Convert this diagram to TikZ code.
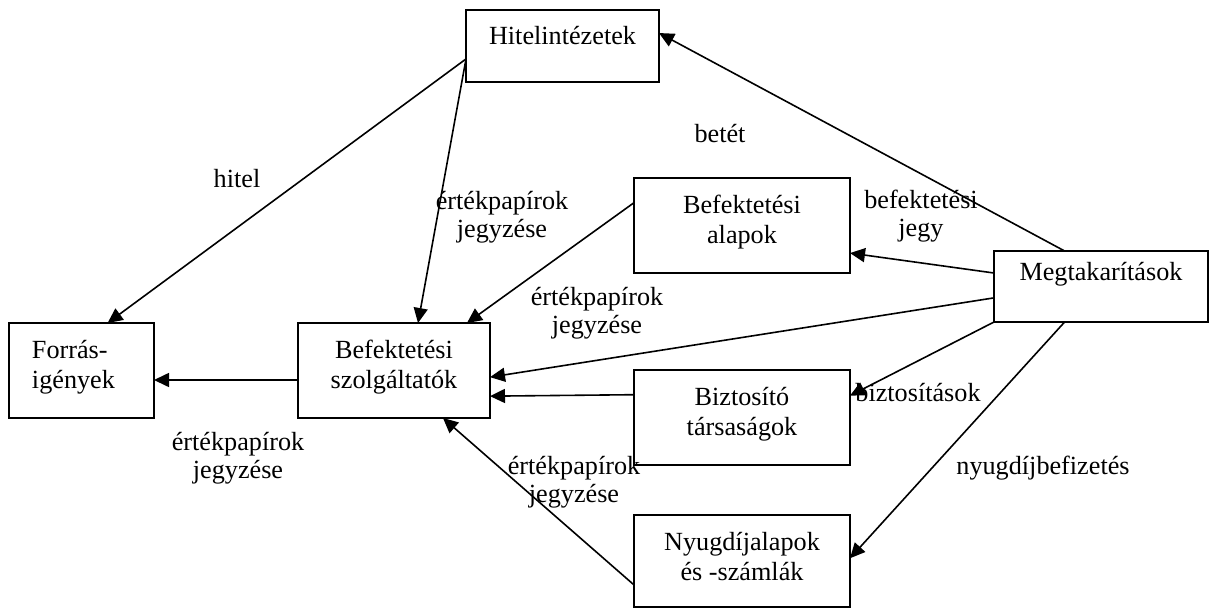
\documentclass[tikz,border=0pt]{standalone}
\usepackage{fontspec}
\setmainfont{Liberation Serif}
\usetikzlibrary{arrows.meta,calc}

\tikzset{
  box/.style={draw, line width=0.8pt, inner sep=0pt, outer sep=0pt, anchor=north west,
    align=center, font=\fontsize{13.1}{15}\selectfont},
  lbl/.style={anchor=base, align=center, inner sep=0pt, font=\fontsize{13.1}{14}\selectfont},
  arr/.style={line width=0.8pt, -{Triangle[length=7.5pt,width=7pt]}},
}

\begin{document}
\begin{tikzpicture}[x=0.5pt,y=-0.5pt]

\fill[white] (0,0) rectangle (1209,610);
\useasboundingbox (0,0) rectangle (1209,610);

% boxes (positions in pixels of the original)
\node[box, minimum width=96.5pt, text height=17.5pt, text depth=18.5pt] (hit) at (466,10) {Hitelintézetek};
\node[box, align=left, inner xsep=11.5pt, text width=49.5pt, text height=17.5pt, text depth=30pt] (forras) at (9,323) {Forrás-\\igények};
\node[box, minimum width=96pt, text height=32.5pt, text depth=15pt] (szolg) at (298,323) {Befektetési\\szolgáltatók};
\node[box, minimum width=108pt, text height=32.5pt, text depth=15pt] (alap) at (634,178) {Befektetési\\alapok};
\node[box, minimum width=108pt, text height=32.5pt, text depth=15pt] (bizt) at (634,370) {Biztosító\\társaságok};
\node[box, minimum width=108pt, text height=32.5pt, text depth=13.5pt] (nyug) at (634,515) {Nyugdíjalapok\\és -számlák};
\node[box, minimum width=107pt, text height=14.5pt, text depth=21pt] (megt) at (994,251) {Megtakarítások};

% connectors
\coordinate (hs) at ($(hit.north west)!.68!(hit.south west)$);
\draw[arr] (hs) -- ($(forras.north west)!.68!(forras.north east)$);
\draw[arr] (hs) -- ($(szolg.north west)!.625!(szolg.north east)$);
\draw[arr] ($(megt.north west)!.33!(megt.north east)$) -- ($(hit.north east)!.32!(hit.south east)$);
\draw[arr] ($(alap.north west)!.26!(alap.south west)$) -- ($(szolg.north west)!.88!(szolg.north east)$);
\draw[arr] ($(megt.north west)!.31!(megt.south west)$) -- ($(alap.north east)!.79!(alap.south east)$);
\draw[arr] ($(megt.north west)!.66!(megt.south west)$) -- ($(szolg.north east)!.57!(szolg.south east)$);
\draw[arr] (megt.south west) -- ($(bizt.north east)!.27!(bizt.south east)$);
\draw[arr] ($(bizt.north west)!.26!(bizt.south west)$) -- ($(szolg.north east)!.77!(szolg.south east)$);
\draw[arr] ($(megt.south west)!.33!(megt.south east)$) -- ($(nyug.north east)!.47!(nyug.south east)$);
\draw[arr] ($(nyug.north west)!.76!(nyug.south west)$) -- ($(szolg.south west)!.755!(szolg.south east)$);
\draw[arr] ($(szolg.north west)!.6!(szolg.south west)$) -- ($(forras.north east)!.6!(forras.south east)$);

% labels (y = baseline of the last line)
\node[lbl] (l-hitel) at (237,187) {hitel};
\node[lbl] (l-betet) at (720,142) {betét};
\node[lbl] (l-jegy1) at (502,237) {értékpapírok\\jegyzése};
\node[lbl] (l-jegy2) at (597,333) {értékpapírok\\jegyzése};
\node[lbl] (l-jegy3) at (238,478) {értékpapírok\\jegyzése};
\node[lbl] (l-jegy4) at (574,502) {értékpapírok\\jegyzése};
\node[lbl] (l-befj) at (921,236) {befektetési\\jegy};
\node[lbl] (l-bizt) at (918,401) {biztosítások};
\node[lbl] (l-nyug) at (1043,474) {nyugdíjbefizetés};

\end{tikzpicture}
\end{document}
